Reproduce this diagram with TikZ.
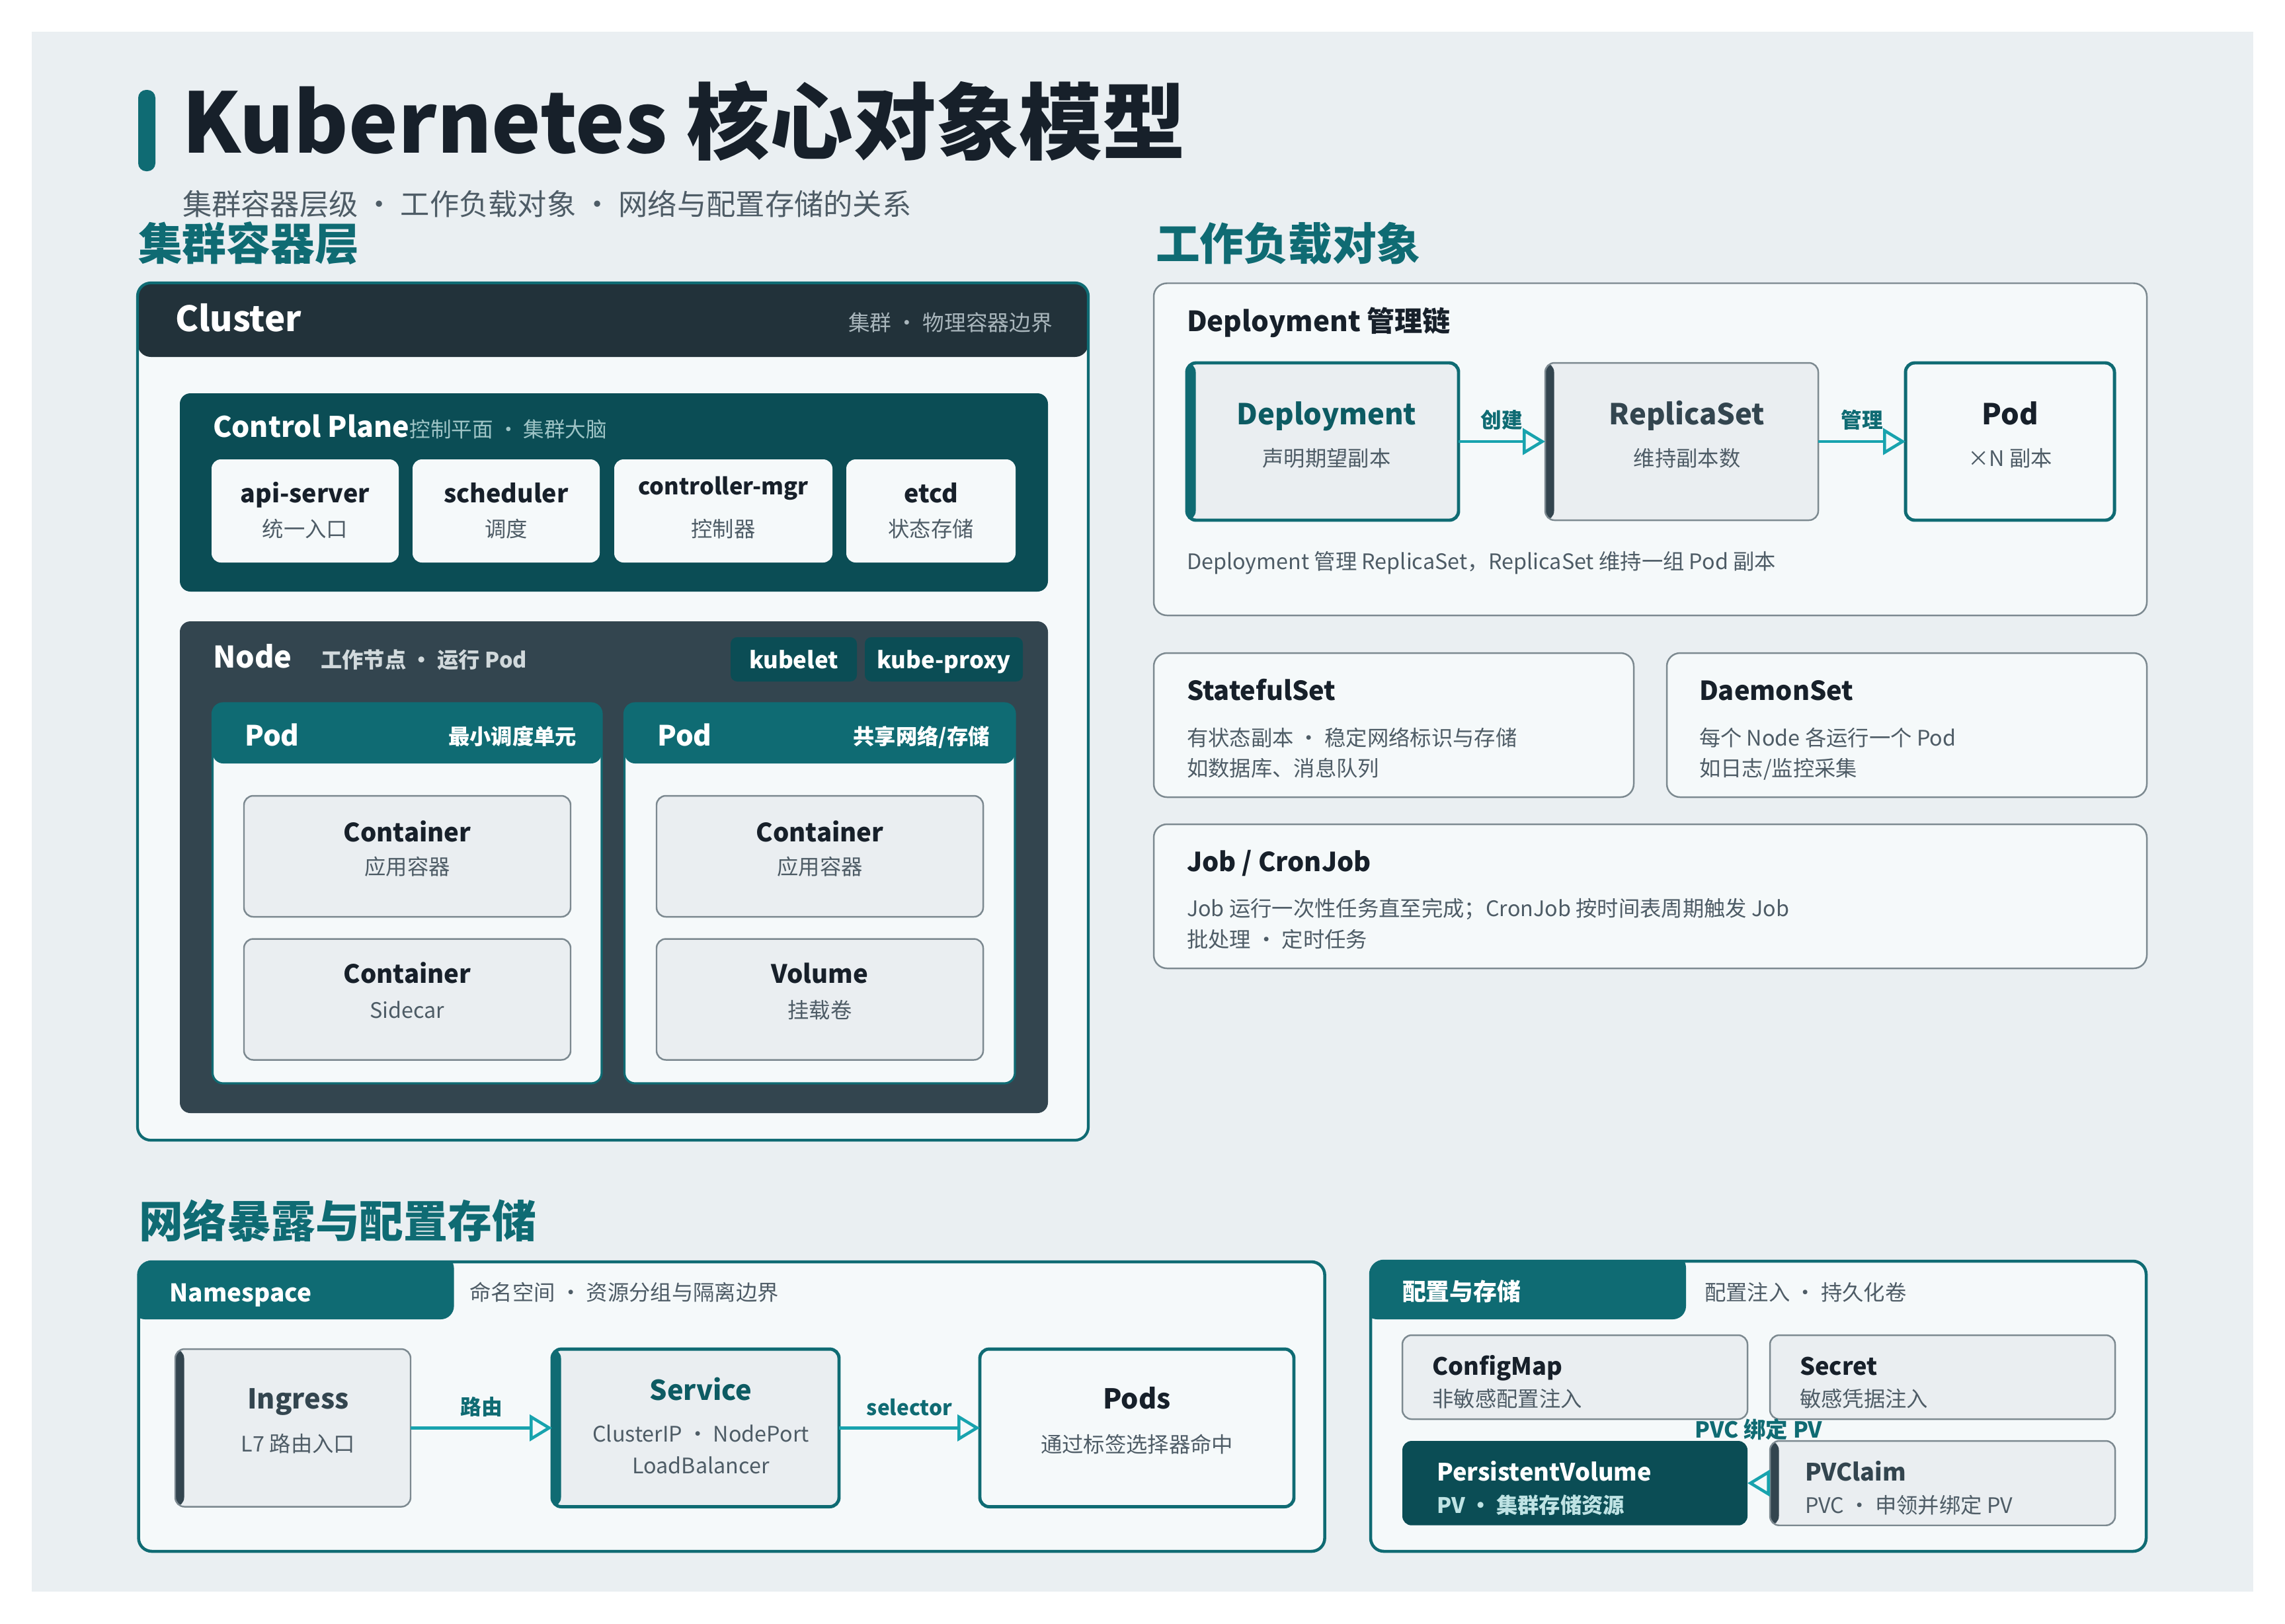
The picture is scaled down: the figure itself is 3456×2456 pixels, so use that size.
\documentclass[tikz,border=0pt]{standalone}
\usepackage{fontspec}
\setmainfont{Noto Sans CJK SC}
\usetikzlibrary{positioning,arrows.meta}

\definecolor{pagebg}{HTML}{EAEFF2}
\definecolor{cardbg}{HTML}{F5F9FA}
\definecolor{boxbg}{HTML}{EAEEF1}
\definecolor{brand}{HTML}{0F6B73}
\definecolor{deepteal}{HTML}{0B4D55}
\definecolor{navy}{HTML}{22323A}
\definecolor{slate}{HTML}{33454F}
\definecolor{flowteal}{HTML}{18A3AE}
\definecolor{linegray}{HTML}{7C8990}
\definecolor{ink}{HTML}{17202A}
\definecolor{muted}{HTML}{4E5C66}
\definecolor{fog}{HTML}{A9B6BC}
\definecolor{mist}{HTML}{9EC4C6}
\definecolor{haze}{HTML}{D1D9DC}
\definecolor{foam}{HTML}{BFE3E4}
\definecolor{tealtxt}{HTML}{0D5B63}
\newcommand{\fsz}[1]{\fontsize{#1}{#1}\selectfont}

\begin{document}
\begin{tikzpicture}[x=0.1mm,y=-0.1mm,
  box/.style={inner sep=0pt,outer sep=0pt,anchor=north west,rounded corners=1.4mm},
  card/.style={box,draw=linegray,line width=0.7pt,fill=cardbg,rounded corners=2mm},
  panel/.style={box,draw=brand,line width=1.3pt,fill=cardbg,rounded corners=2mm},
  inbox/.style={box,draw=linegray,line width=0.7pt,fill=boxbg},
  keybox/.style={box,draw=brand,line width=1.4pt},
  bar/.style={path picture={\fill[#1] (path picture bounding box.north west) rectangle ([xshift=1.35mm]path picture bounding box.south west);}},
  topband/.style 2 args={path picture={\fill[#1] (path picture bounding box.north west) rectangle ([yshift=-#2]path picture bounding box.north east);}},
  tabfill/.style 2 args={path picture={\fill[brand,rounded corners=2mm] ([shift={(-10,-10)}]path picture bounding box.north west) rectangle ([shift={(#1,#2)}]path picture bounding box.north west);}},
  lbl/.style={inner sep=0pt,outer sep=0pt},
  ttl/.style={lbl,font=\bfseries\fsz{#1},text=ink},
  note/.style={lbl,font=\fsz{9.2},text=muted},
  sect/.style={lbl,font=\bfseries\fsz{19},text=brand,anchor=base west},
  flowlbl/.style={lbl,font=\bfseries\fsz{9},text=brand,anchor=base},
  flow/.style={draw=flowteal,line width=1.3pt,-{Triangle[open,length=3.4mm,width=4mm,line width=1.3pt]}}
]
\useasboundingbox (0,0) rectangle (3456,2456);
\fill[white] (0,0) rectangle (3456,2456);
\fill[pagebg] (48,48) rectangle (3408,2408);

\fill[brand,rounded corners=1.2mm] (209,136) rectangle (235,259);
\node[ttl=35.8,anchor=base west] (title) at (275,231) {Kubernetes 核心对象模型};
\node[lbl,font=\fsz{12.6},text=muted,anchor=base west] (tagline) at (276,325) {集群容器层级 • 工作负载对象 • 网络与配置存储的关系};
\node[sect] (sec1) at (209,393) {集群容器层};
\node[sect] (sec2) at (1748,393) {工作负载对象};
\node[sect] (sec3) at (210,1872) {网络暴露与配置存储};

\node[box,draw=brand,line width=1.2pt,fill=cardbg,rounded corners=2mm,topband={navy}{11.2mm},minimum width=143.8mm,minimum height=129.7mm] (cluster) at (208,428) {};
\node[ttl=15,text=white,anchor=base west] (clustert) at ([shift={(57,73)}]cluster.north west) {Cluster};
\node[lbl,font=\fsz{9.3},text=fog,anchor=base east] (clusters) at ([shift={(-54,72)}]cluster.north east) {集群 • 物理容器边界};

\node[box,fill=deepteal,rounded corners=1.6mm,minimum width=131.3mm,minimum height=30mm] (ctrlplane) at (272,595) {};
\node[ttl=12.2,text=white,anchor=base west] (ctrlplanet) at ([shift={(50,66)}]ctrlplane.north west) {Control Plane};
\node[lbl,font=\fsz{9},text=mist,anchor=base west] (ctrlplanes) at (ctrlplanet.base east) {控制平面 • 集群大脑};
\node[box,fill=cardbg,minimum width=28.3mm,minimum height=15.6mm] (apisrv) at (320,695) {};
\node[ttl=10.7,anchor=base] (apisrvt) at ([shift={(0,65)}]apisrv.north) {api-server};
\node[note,anchor=base] (apisrvs) at ([shift={(0,117)}]apisrv.north) {统一入口};
\node[box,fill=cardbg,minimum width=28.3mm,minimum height=15.6mm] (sched) at (624,695) {};
\node[ttl=10.7,anchor=base] (schedt) at ([shift={(0,65)}]sched.north) {scheduler};
\node[note,anchor=base] (scheds) at ([shift={(0,117)}]sched.north) {调度};
\node[box,fill=cardbg,minimum width=33mm,minimum height=15.6mm] (ctrlmgr) at (929,695) {};
\node[ttl=9.8,anchor=base] (ctrlmgrt) at ([shift={(0,53)}]ctrlmgr.north) {controller-mgr};
\node[note,anchor=base] (ctrlmgrs) at ([shift={(0,117)}]ctrlmgr.north) {控制器};
\node[box,fill=cardbg,minimum width=25.6mm,minimum height=15.6mm] (etcd) at (1280,695) {};
\node[ttl=10.7,anchor=base] (etcdt) at ([shift={(0,65)}]etcd.north) {etcd};
\node[note,anchor=base] (etcds) at ([shift={(0,117)}]etcd.north) {状态存储};

\node[box,fill=slate,rounded corners=1.6mm,minimum width=131.3mm,minimum height=74.4mm] (worker) at (272,940) {};
\node[ttl=12.8,text=white,anchor=base west] (workert) at ([shift={(50,70)}]worker.north west) {Node};
\node[lbl,font=\bfseries\fsz{9.2},text=haze,anchor=base west] (workers) at ([shift={(213,70)}]worker.north west) {工作节点 • 运行 Pod};
\node[box,fill=deepteal,rounded corners=1mm,minimum width=19.1mm,minimum height=6.7mm] (kubelet) at (1105,964) {};
\node[ttl=9.9,text=white,anchor=base] (kubelett) at ([shift={(0,47)}]kubelet.north) {kubelet};
\node[box,fill=deepteal,rounded corners=1mm,minimum width=23.9mm,minimum height=6.7mm] (kubeproxy) at (1308,964) {};
\node[ttl=9.9,text=white,anchor=base] (kubeproxyt) at ([shift={(0,47)}]kubeproxy.north) {kube-proxy};

\node[box,draw=brand,line width=0.9pt,fill=cardbg,rounded corners=1.6mm,topband={brand}{9.1mm},minimum width=58.85mm,minimum height=57.5mm] (podA) at (321.5,1064) {};
\node[ttl=12,text=white,anchor=base west] (podAt) at ([shift={(48.5,64)}]podA.north west) {Pod};
\node[lbl,font=\bfseries\fsz{9.2},text=white,anchor=base east] (podAs) at ([shift={(-38,62)}]podA.north east) {最小调度单元};
\node[inbox,minimum width=49.4mm,minimum height=18.3mm] (ctrA1) at (369,1204) {};
\node[ttl=10.9,anchor=base] (ctrA1t) at ([shift={(0,69)}]ctrA1.north) {Container};
\node[note,anchor=base] (ctrA1s) at ([shift={(0,119)}]ctrA1.north) {应用容器};
\node[inbox,minimum width=49.4mm,minimum height=18.3mm] (ctrA2) at (369,1420.5) {};
\node[ttl=10.9,anchor=base] (ctrA2t) at ([shift={(0,67)}]ctrA2.north) {Container};
\node[note,anchor=base] (ctrA2s) at ([shift={(0,120)}]ctrA2.north) {Sidecar};

\node[box,draw=brand,line width=0.9pt,fill=cardbg,rounded corners=1.6mm,topband={brand}{9.1mm},minimum width=59.05mm,minimum height=57.5mm] (podB) at (944.5,1064) {};
\node[ttl=12,text=white,anchor=base west] (podBt) at ([shift={(49.5,64)}]podB.north west) {Pod};
\node[lbl,font=\bfseries\fsz{9.2},text=white,anchor=base east] (podBs) at ([shift={(-38,62)}]podB.north east) {共享网络/存储};
\node[inbox,minimum width=49.4mm,minimum height=18.3mm] (ctrB) at (993,1204) {};
\node[ttl=10.9,anchor=base] (ctrBt) at ([shift={(0,69)}]ctrB.north) {Container};
\node[note,anchor=base] (ctrBs) at ([shift={(0,119)}]ctrB.north) {应用容器};
\node[inbox,minimum width=49.4mm,minimum height=18.3mm] (vol) at (993,1420.5) {};
\node[ttl=10.9,anchor=base] (volt) at ([shift={(0,67)}]vol.north) {Volume};
\node[note,anchor=base] (vols) at ([shift={(0,120)}]vol.north) {挂载卷};

\node[card,minimum width=150.2mm,minimum height=50.25mm] (chain) at (1745,428.5) {};
\node[ttl=12,anchor=base west] (chaint) at ([shift={(50,72.5)}]chain.north west) {Deployment 管理链};
\node[keybox,fill=boxbg,bar=brand,minimum width=41.1mm,minimum height=23.8mm] (deploy) at (1795,549) {};
\node[ttl=12.4,text=tealtxt,anchor=base] (deployt) at ([shift={(6,93)}]deploy.north) {Deployment};
\node[note,anchor=base] (deploys) at ([shift={(6,156)}]deploy.north) {声明期望副本};
\node[inbox,bar=slate,minimum width=41.3mm,minimum height=23.8mm] (rs) at (2337,549) {};
\node[ttl=12.4,text=slate,anchor=base] (rst) at ([shift={(8,93)}]rs.north) {ReplicaSet};
\node[note,anchor=base] (rss) at ([shift={(8,156)}]rs.north) {维持副本数};
\node[keybox,fill=cardbg,minimum width=31.6mm,minimum height=23.8mm] (podx) at (2882,549) {};
\node[ttl=12.4,anchor=base] (podxt) at ([shift={(0,93)}]podx.north) {Pod};
\node[note,anchor=base] (podxs) at ([shift={(0,156)}]podx.north) {×N 副本};
\draw[flow] (deploy.east) -- node[flowlbl,yshift=2.1mm] (createl) {创建} (rs.west);
\draw[flow] (rs.east) -- node[flowlbl,yshift=2.1mm] (managel) {管理} (podx.west);
\node[note,anchor=base west] (chainnote) at ([shift={(50,433)}]chain.north west) {Deployment 管理 ReplicaSet，ReplicaSet 维持一组 Pod 副本};

\node[card,minimum width=72.6mm,minimum height=21.8mm] (sts) at (1745,988) {};
\node[ttl=11.3,anchor=base west] (stst) at ([shift={(50,71.5)}]sts.north west) {StatefulSet};
\node[note,anchor=base west] (stsa) at ([shift={(50,140)}]sts.north west) {有状态副本 • 稳定网络标识与存储};
\node[note,anchor=base west] (stsb) at ([shift={(50,186)}]sts.north west) {如数据库、消息队列};
\node[card,minimum width=72.6mm,minimum height=21.8mm] (ds) at (2521,988) {};
\node[ttl=11.3,anchor=base west] (dst) at ([shift={(49,71.5)}]ds.north west) {DaemonSet};
\node[note,anchor=base west] (dsa) at ([shift={(49,140)}]ds.north west) {每个 Node 各运行一个 Pod};
\node[note,anchor=base west] (dsb) at ([shift={(49,186)}]ds.north west) {如日志/监控采集};
\node[card,minimum width=150.2mm,minimum height=21.8mm] (job) at (1745,1247) {};
\node[ttl=11.3,anchor=base west] (jobt) at ([shift={(50,71)}]job.north west) {Job / CronJob};
\node[note,anchor=base west] (joba) at ([shift={(50,139)}]job.north west) {Job 运行一次性任务直至完成；CronJob 按时间表周期触发 Job};
\node[note,anchor=base west] (jobb) at ([shift={(50,186)}]job.north west) {批处理 • 定时任务};

\node[panel,tabfill={477}{87},minimum width=179.4mm,minimum height=43.8mm] (ns) at (209.6,1909) {};
\node[ttl=10.5,text=white,anchor=base west] (nst) at ([shift={(47,60)}]ns.north west) {Namespace};
\node[note,anchor=base west] (nss) at ([shift={(501,58)}]ns.north west) {命名空间 • 资源分组与隔离边界};
\node[inbox,bar=slate,minimum width=35.6mm,minimum height=23.85mm] (ingress) at (265,2041) {};
\node[ttl=11.8,text=slate,anchor=base] (ingresst) at ([shift={(8,90)}]ingress.north) {Ingress};
\node[note,anchor=base] (ingresss) at ([shift={(8,155)}]ingress.north) {L7 路由入口};
\node[keybox,fill=boxbg,bar=brand,minimum width=43.4mm,minimum height=23.85mm] (svc) at (835,2041) {};
\node[ttl=11.8,text=tealtxt,anchor=base] (svct) at ([shift={(8,77.6)}]svc.north) {Service};
\node[note,anchor=base] (svca) at ([shift={(8,140)}]svc.north) {ClusterIP • NodePort};
\node[note,anchor=base] (svcb) at ([shift={(8,188.6)}]svc.north) {LoadBalancer};
\node[keybox,fill=cardbg,minimum width=47.5mm,minimum height=23.85mm] (pods) at (1482,2041) {};
\node[ttl=11.8,anchor=base] (podst) at ([shift={(0,90.5)}]pods.north) {Pods};
\node[note,anchor=base] (podss) at ([shift={(0,156)}]pods.north) {通过标签选择器命中};
\draw[flow] (ingress.east) -- node[flowlbl,yshift=2mm] (routel) {路由} (svc.west);
\draw[flow] (svc.east) -- node[flowlbl,yshift=1.9mm] (selectl) {selector} (pods.west);

\node[panel,tabfill={477}{88},minimum width=117.3mm,minimum height=43.9mm] (cfg) at (2073,1908) {};
\node[ttl=10.2,text=white,anchor=base west] (cfgt) at ([shift={(48,59)}]cfg.north west) {配置与存储};
\node[note,anchor=base west] (cfgs) at ([shift={(505,59)}]cfg.north west) {配置注入 • 持久化卷};
\node[inbox,minimum width=52.2mm,minimum height=12.7mm] (cm) at (2121,2020) {};
\node[ttl=10.3,anchor=base west] (cmt) at ([shift={(45.6,60)}]cm.north west) {ConfigMap};
\node[note,anchor=base west] (cms) at ([shift={(45.6,108)}]cm.north west) {非敏感配置注入};
\node[inbox,minimum width=52.2mm,minimum height=12.7mm] (secret) at (2677,2020) {};
\node[ttl=10.3,anchor=base west] (secrett) at ([shift={(45,60)}]secret.north west) {Secret};
\node[note,anchor=base west] (secrets) at ([shift={(45,108)}]secret.north west) {敏感凭据注入};
\node[box,fill=deepteal,minimum width=52.2mm,minimum height=12.77mm] (pv) at (2121,2180) {};
\node[ttl=10.3,text=white,anchor=base west] (pvt) at ([shift={(52,60)}]pv.north west) {PersistentVolume};
\node[lbl,font=\bfseries\fsz{9.2},text=foam,anchor=base west] (pvs) at ([shift={(52,109)}]pv.north west) {PV • 集群存储资源};
\node[inbox,bar=slate,minimum width=52.2mm,minimum height=12.77mm] (pvc) at (2677,2180) {};
\node[ttl=10.3,text=slate,anchor=base west] (pvct) at ([shift={(53,60)}]pvc.north west) {PVClaim};
\node[note,anchor=base west] (pvcs) at ([shift={(53,109)}]pvc.north west) {PVC • 申领并绑定 PV};
\draw[flow] (pvc.west) -- (pv.east);
\node[lbl,font=\bfseries\fsz{9.5},text=brand,anchor=base] (bindl) at ([shift={(17,-5)}]pv.north east) {PVC 绑定 PV};
\end{tikzpicture}
\end{document}
